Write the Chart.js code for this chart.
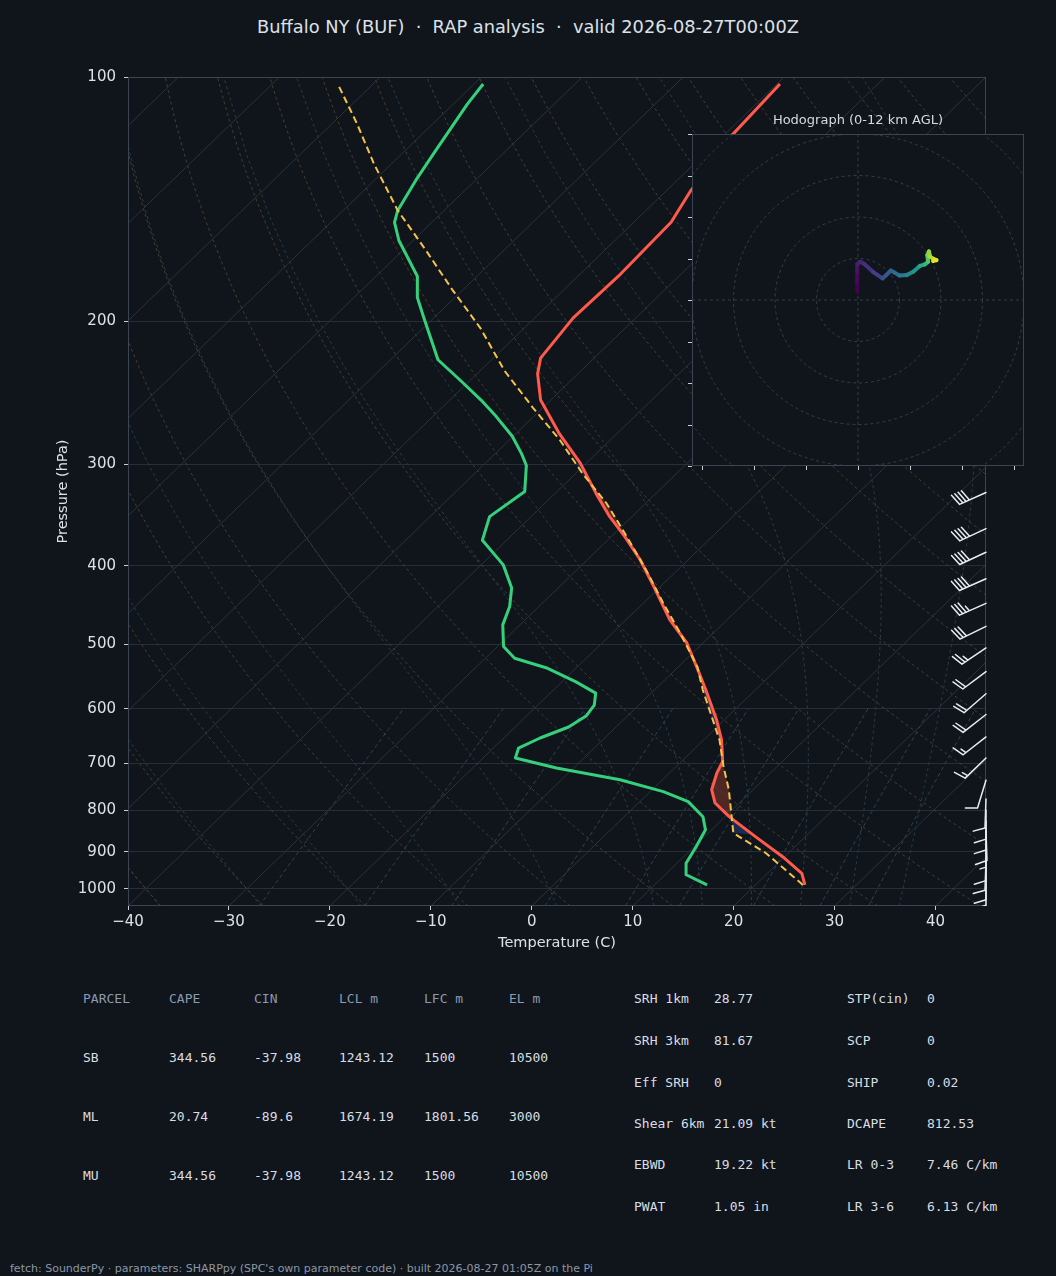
<!DOCTYPE html>
<html>
<head>
<meta charset="utf-8">
<title>Buffalo NY (BUF) sounding</title>
<script src="https://cdn.jsdelivr.net/npm/chart.js@4.4.1/dist/chart.umd.min.js"></script>
<style>
  html, body { margin: 0; padding: 0; background: #10151c; }
  body { width: 1056px; height: 1276px; position: relative; overflow: hidden;
         font-family: 'DejaVu Sans', sans-serif; color: #dde1e7; }
  #title { position: absolute; top: 15px; left: 0; width: 1056px; text-align: center;
           font-size: 17.8px; line-height: 24px; white-space: pre; }
  #skew { position: absolute; left: 0; top: 0; }
  #hodo { position: absolute; left: 682px; top: 124px; }
  #hodoTitle { position: absolute; left: 692px; width: 332px; top: 111px; text-align: center;
               font-size: 13px; line-height: 18px; color: #d5dae0; }
  .cell { position: absolute; font-family: 'DejaVu Sans Mono', monospace; font-size: 13px;
          line-height: 16px; white-space: pre; color: #d8dde3; }
  .head { color: #8a9ab0; }
  #footer { position: absolute; left: 10px; top: 1262px; font-size: 11px; line-height: 14px;
            color: #8b97a5; white-space: pre; }
</style>
</head>
<body>
<div id="title">Buffalo NY (BUF)  ·  RAP analysis  ·  valid 2026-08-27T00:00Z</div>
<canvas id="skew" width="1056" height="960"></canvas>
<div id="hodoTitle">Hodograph (0-12 km AGL)</div>
<canvas id="hodo" width="352" height="352"></canvas>
<div id="footer">fetch: SounderPy · parameters: SHARPpy (SPC's own parameter code) · built 2026-08-27 01:05Z on the Pi</div>

<script>
// ---- sounding ----
const tempP = [989, 957, 913, 863, 815, 784, 755, 720, 697, 656, 619, 569, 538, 498, 466, 424,
  393, 368, 348, 326, 299, 275, 250, 232, 222, 198, 175, 151, 138, 118, 102];
const tempC = [24.9, 23.4, 19.8, 15.1, 10.4, 7.6, 5.9, 4.7, 4.1, 1.8, -0.8, -4.9, -7.7, -11.6,
  -15.7, -20.7, -24.8, -28.7, -32.2, -35.9, -40.6, -45.7, -51.0, -54.0, -55.3, -56.2, -56.0,
  -56.3, -57.6, -59.2, -59.7];

const dewP = [989, 961, 930, 887, 846, 815, 781, 759, 734, 710, 690, 671, 652, 632, 612, 594,
  574, 556, 535, 520, 503, 473, 449, 426, 399, 372, 348, 324, 301, 291, 277, 262, 250, 236, 223,
  198, 187, 176, 159, 151, 146, 134, 124, 108, 102];
const dewC = [15.2, 12.1, 10.9, 10.2, 9.4, 7.8, 4.8, 1.3, -4.2, -11.7, -16.8, -17.5, -16.4,
  -14.7, -14.1, -14.4, -15.5, -18.6, -22.8, -27.1, -29.4, -31.7, -32.9, -34.6, -37.8, -42.4,
  -44.1, -43.2, -45.7, -47.4, -50.1, -53.7, -56.9, -61.1, -65.3, -71.0, -73.7, -75.9, -81.4,
  -83.7, -84.6, -85.9, -86.9, -88.6, -89.1];

// surface-based parcel
const parcelP = [989, 904, 854, 755, 707, 656, 569, 533, 484, 445, 405, 368, 335, 308, 280, 255,
  230, 204, 183, 163, 146, 128, 114, 102];
const parcelC = [24.7, 17.8, 12.5, 7.6, 4.7, 1.6, -5.2, -8.1, -13.3, -18.0, -23.1, -28.5, -33.9,
  -39.3, -45.0, -51.1, -57.6, -64.3, -71.0, -77.9, -84.6, -91.7, -97.6, -103.5];

// wind barbs on the right edge (kt, direction wind is from)
const barbP = [325, 360, 385, 415, 445, 475, 505, 540, 575, 610, 650, 690, 735,
  775, 800, 825, 850, 875, 900, 925, 950, 975];
const barbSpd = [40, 40, 40, 40, 35, 30, 25, 20, 20, 20, 15, 15, 10,
  10, 10, 10, 10, 5, 10, 10, 10, 5];
const barbDir = [246, 245, 245, 246, 246, 244, 236, 233, 229, 232, 232, 226, 197,
  182, 180, 180, 178, 180, 180, 182, 180, 180];

// hodograph trace, 0-12 km
const hodoU = [-0.2, -0.2, -0.2, -0.2, 0.6, 1.6, 3.6, 5.9, 6.8, 7.9, 8.8, 10.0, 11.7, 13.3,
  14.9, 16.1, 16.9, 16.7, 17.1, 17.4, 18.2, 18.9, 18.1];
const hodoV = [2.0, 4.4, 6.8, 8.6, 9.2, 8.6, 6.8, 5.2, 6.0, 7.1, 6.6, 5.9, 6.0, 6.8,
  8.2, 8.6, 9.2, 10.8, 11.7, 10.4, 9.9, 9.6, 9.4];
const hodoZ = [0, 0.3, 0.6, 1.0, 1.3, 1.7, 2.3, 3.0, 3.4, 3.8, 4.2, 4.8, 5.5, 6.3,
  7.2, 8.0, 8.8, 9.5, 10.0, 10.5, 11.0, 11.5, 12.0];

// axis ticks
const pressureTicks = [100, 200, 300, 400, 500, 600, 700, 800, 900, 1000];
const tempTicks = [-40, -30, -20, -10, 0, 10, 20, 30, 40];
const hodoTickX = [-37.5, -25, -12.5, 0, 12.5, 25, 37.5];
const hodoTickY = [-40, -30, -20, -10, 0, 10, 20, 30, 40];
const hodoRings = [10, 20, 30, 40, 50, 60];

// reference lines of the diagram
const dryTheta = [];
for (let t = -40; t < 200; t += 10) dryTheta.push(t);
const moistT0 = [-50, -40, -30, -20, -10, 0, 10, 15, 20, 25, 30, 35];
const mixRatios = [0.0004, 0.001, 0.002, 0.004, 0.007, 0.01, 0.016, 0.024, 0.032];

// parameter table
const parcelNames = ['SB', 'ML', 'MU'];
const capeVals = ['344.56', '20.74', '344.56'];
const cinVals = ['-37.98', '-89.6', '-37.98'];
const lclVals = ['1243.12', '1674.19', '1243.12'];
const lfcVals = ['1500', '1801.56', '1500'];
const elVals = ['10500', '3000', '10500'];
const paramNamesA = ['SRH 1km', 'SRH 3km', 'Eff SRH', 'Shear 6km', 'EBWD', 'PWAT'];
const paramValsA = ['28.77', '81.67', '0', '21.09 kt', '19.22 kt', '1.05 in'];
const paramNamesB = ['STP(cin)', 'SCP', 'SHIP', 'DCAPE', 'LR 0-3', 'LR 3-6'];
const paramValsB = ['0', '0', '0.02', '812.53', '7.46 C/km', '6.13 C/km'];

// ---- styling ----
const BG = '#10151c';
const TEXT = '#dde1e7';
const TICK = '#c9ced6';
const FONT = "'DejaVu Sans', sans-serif";
const P_BOT = 1050, P_TOP = 100, T_MIN = -40, T_MAX = 45;

// 45 degree skew like metpy: shift by axes fraction of height
const skewX = (t, p) => t + (T_MAX - T_MIN) * Math.log(P_BOT / p) / Math.log(P_BOT / P_TOP);
const toPts = (ps, ts) => ps.map((p, i) => ({ x: skewX(ts[i], p), y: p }));

function logLevels(pFrom, pTo, n) {
  const out = [];
  for (let i = 0; i <= n; i++) out.push(pFrom * Math.pow(pTo / pFrom, i / n));
  return out;
}

function moistLapse(tK, p) {
  const Rd = 287.04, Cp = 1005.7, Lv = 2.501e6, eps = 0.622;
  const tc = tK - 273.15;
  const es = 6.112 * Math.exp(17.67 * tc / (tc + 243.5));
  const rs = eps * es / (p - es);
  return (1 / p) * (Rd * tK + Lv * rs) / (Cp + (Lv * Lv * rs * eps) / (Rd * tK * tK));
}

function moistLine(t0) {
  const rk = (p, t, dp) => {
    const k1 = moistLapse(t, p);
    return t + moistLapse(t + k1 * dp / 2, p + dp / 2) * dp;
  };
  let tb = t0 + 273.15;
  for (let p = 1000; p < P_BOT; p += 5) tb = rk(p, tb, 5);
  const pts = [{ x: skewX(tb - 273.15, P_BOT), y: P_BOT }];
  let t = t0 + 273.15;
  for (let p = 1000; p >= P_TOP; p -= 5) {
    if (p % 25 === 0) pts.push({ x: skewX(t - 273.15, p), y: p });
    t = rk(p, t, -5);
  }
  return pts;
}

function refLine(data, color, dash) {
  return { data, showLine: true, borderColor: color, borderWidth: 1, borderDash: dash,
    pointRadius: 0, order: 10 };
}

const datasets = [
  { data: toPts(tempP, tempC), showLine: true, borderColor: '#ff5a4c', borderWidth: 3,
    pointRadius: 0, borderJoinStyle: 'round', order: 1 },
  { data: toPts(dewP, dewC), showLine: true, borderColor: '#36d07c', borderWidth: 3,
    pointRadius: 0, borderJoinStyle: 'round', order: 2 },
  { data: toPts(parcelP, parcelC), showLine: true, borderColor: '#f5c444', borderWidth: 2,
    borderDash: [7, 4], pointRadius: 0, order: 0 }
];

for (let t = -130; t <= 40; t += 10) {
  datasets.push(refLine([{ x: skewX(t, P_BOT), y: P_BOT }, { x: skewX(t, P_TOP), y: P_TOP }],
    '#2b323b', []));
}
const dryLevels = logLevels(P_BOT, P_TOP, 40);
dryTheta.forEach(th => {
  datasets.push(refLine(dryLevels.map(p => ({
    x: skewX((th + 273.15) * Math.pow(p / 1000, 0.2857) - 273.15, p), y: p })),
    '#4a3d2c', [3, 3]));
});
moistT0.forEach(t0 => datasets.push(refLine(moistLine(t0), '#263d48', [3, 3])));
const mixLevels = logLevels(P_BOT, 600, 10);
mixRatios.forEach(w => {
  datasets.push(refLine(mixLevels.map(p => {
    const e = w * p / (0.622 + w);
    const l = Math.log(e / 6.112);
    return { x: skewX(243.5 * l / (17.67 - l), p), y: p };
  }), '#2a4450', [4, 3]));
});

// interpolate a profile in log-p
function interpLogP(ps, ts, p) {
  for (let i = 0; i < ps.length - 1; i++) {
    if (p <= ps[i] && p >= ps[i + 1]) {
      const f = Math.log(p / ps[i]) / Math.log(ps[i + 1] / ps[i]);
      return ts[i] + f * (ts[i + 1] - ts[i]);
    }
  }
  return NaN;
}

// CAPE (red) / CIN (blue) shading between parcel and environment
const shadePlugin = {
  id: 'shade',
  beforeDatasetsDraw(chart) {
    const { ctx, chartArea: a, scales: { x, y } } = chart;
    const levels = logLevels(parcelP[0], parcelP[parcelP.length - 1], 400);
    const envX = [], parX = [], py = [];
    levels.forEach(p => {
      envX.push(x.getPixelForValue(skewX(interpLogP(tempP, tempC, p), p)));
      parX.push(x.getPixelForValue(skewX(interpLogP(parcelP, parcelC, p), p)));
      py.push(y.getPixelForValue(p));
    });
    ctx.save();
    ctx.beginPath();
    ctx.rect(a.left, a.top, a.width, a.height);
    ctx.clip();
    const poly = (color, other) => {
      ctx.beginPath();
      levels.forEach((p, i) => (i ? ctx.lineTo(envX[i], py[i]) : ctx.moveTo(envX[i], py[i])));
      for (let i = levels.length - 1; i >= 0; i--) ctx.lineTo(other(i, levels[i]), py[i]);
      ctx.closePath();
      ctx.fillStyle = color;
      ctx.fill();
    };
    poly('rgba(215,80,60,0.32)', i => Math.max(envX[i], parX[i]));
    poly('rgba(60,95,210,0.30)', (i, p) => (p <= 854 && p >= 300 ? Math.min(envX[i], parX[i]) : envX[i]));
    ctx.restore();
  }
};

const framePlugin = {
  id: 'frame',
  afterDatasetsDraw(chart) {
    const { ctx, chartArea: a } = chart;
    ctx.save();
    ctx.strokeStyle = '#3b4451';
    ctx.lineWidth = 1;
    ctx.strokeRect(a.left + 0.5, a.top + 0.5, a.width - 1, a.height - 1);
    ctx.restore();
  }
};

function drawBarb(ctx, x0, y0, spd, dir, L) {
  const r = dir * Math.PI / 180;
  const sx = Math.sin(r), sy = -Math.cos(r);
  const nx = -sy, ny = sx;
  const at = d => [x0 + sx * d, y0 + sy * d];
  ctx.beginPath();
  ctx.moveTo(x0, y0);
  ctx.lineTo(...at(L));
  let s = Math.round(spd / 5) * 5;
  const full = Math.floor(s / 10);
  const half = s % 10 === 5;
  const sp = 0.125 * L;
  let d = L;
  for (let i = 0; i < full; i++) {
    const [px, py] = at(d);
    ctx.moveTo(px, py);
    ctx.lineTo(px + nx * 0.4 * L + sx * 0.125 * L, py + ny * 0.4 * L + sy * 0.125 * L);
    d -= sp;
  }
  if (half) {
    if (full === 0) d -= sp;
    const [px, py] = at(d);
    ctx.moveTo(px, py);
    ctx.lineTo(px + nx * 0.2 * L + sx * 0.0625 * L, py + ny * 0.2 * L + sy * 0.0625 * L);
  }
  ctx.stroke();
}

const barbPlugin = {
  id: 'barbs',
  afterDatasetsDraw(chart) {
    const { ctx, chartArea: a, scales: { y } } = chart;
    ctx.save();
    ctx.beginPath();
    ctx.rect(a.left, a.top, a.width + 2, a.height);
    ctx.clip();
    ctx.strokeStyle = '#e8ecf0';
    ctx.lineWidth = 1.5;
    ctx.lineCap = 'round';
    barbP.forEach((p, i) => drawBarb(ctx, a.right, y.getPixelForValue(p), barbSpd[i], barbDir[i], 29));
    ctx.restore();
  }
};

new Chart(document.getElementById('skew'), {
  type: 'scatter',
  data: { datasets },
  options: {
    responsive: false,
    animation: false,
    devicePixelRatio: 1,
    layout: { padding: { top: 77, right: 70, left: 0, bottom: 0 } },
    plugins: { legend: { display: false }, tooltip: { enabled: false } },
    scales: {
      x: {
        type: 'linear', min: T_MIN, max: T_MAX,
        afterBuildTicks: s => { s.ticks = tempTicks.map(v => ({ value: v })); },
        afterFit: s => { s.height = 54; },
        ticks: { color: TEXT, font: { family: FONT, size: 15 }, padding: 3, maxRotation: 0,
          callback: v => (v < 0 ? '\u2212' + Math.abs(v) : String(v)) },
        grid: { drawOnChartArea: false, tickLength: 4, tickColor: TICK },
        border: { display: false },
        title: { display: true, text: 'Temperature (C)', color: TEXT,
          font: { family: FONT, size: 14.5 }, padding: { top: 0, bottom: 8 } }
      },
      y: {
        type: 'logarithmic', min: P_TOP, max: P_BOT, reverse: true,
        afterBuildTicks: s => { s.ticks = pressureTicks.map(v => ({ value: v })); },
        afterFit: s => { s.width = 128; },
        ticks: { color: TEXT, font: { family: FONT, size: 15 }, padding: 8, autoSkip: false,
          callback: v => String(v) },
        grid: { color: '#272e37', lineWidth: 1, tickLength: 4, tickColor: TICK },
        border: { display: false },
        title: { display: true, text: 'Pressure (hPa)', color: TEXT,
          font: { family: FONT, size: 14.5 }, padding: { top: 55, bottom: 0 } }
      }
    }
  },
  plugins: [shadePlugin, framePlugin, barbPlugin]
});

// ---- hodograph inset ----
const VIRIDIS = ['#440154', '#482878', '#3e4989', '#31688e', '#26828e', '#1f9e89',
  '#35b779', '#6ece58', '#b5de2b', '#fde725'];
function viridis(f) {
  f = Math.min(1, Math.max(0, f)) * (VIRIDIS.length - 1);
  const i = Math.min(VIRIDIS.length - 2, Math.floor(f)), k = f - i;
  const c0 = parseInt(VIRIDIS[i].slice(1), 16), c1 = parseInt(VIRIDIS[i + 1].slice(1), 16);
  const ch = sh => Math.round(((c0 >> sh) & 255) * (1 - k) + ((c1 >> sh) & 255) * k);
  return `rgb(${ch(16)},${ch(8)},${ch(0)})`;
}

const hodoBackdrop = {
  id: 'hodoBackdrop',
  beforeDatasetsDraw(chart) {
    const { ctx, chartArea: a, scales: { x, y } } = chart;
    ctx.save();
    ctx.fillStyle = BG;
    ctx.fillRect(a.left, a.top, a.width, a.height);
    ctx.beginPath();
    ctx.rect(a.left, a.top, a.width, a.height);
    ctx.clip();
    ctx.strokeStyle = '#343d49';
    ctx.lineWidth = 1;
    ctx.setLineDash([3, 3]);
    const cx = x.getPixelForValue(0), cy = y.getPixelForValue(0);
    const unit = x.getPixelForValue(10) - cx;
    hodoRings.forEach(r => {
      ctx.beginPath();
      ctx.arc(cx, cy, r / 10 * unit, 0, Math.PI * 2);
      ctx.stroke();
    });
    ctx.beginPath();
    ctx.moveTo(a.left, cy); ctx.lineTo(a.right, cy);
    ctx.moveTo(cx, a.top); ctx.lineTo(cx, a.bottom);
    ctx.stroke();
    ctx.restore();
  },
  afterDraw(chart) {
    const { ctx, chartArea: a, scales: { x, y } } = chart;
    ctx.save();
    ctx.strokeStyle = '#3b4451';
    ctx.lineWidth = 1;
    ctx.strokeRect(a.left + 0.5, a.top + 0.5, a.width - 1, a.height - 1);
    ctx.strokeStyle = TICK;
    ctx.beginPath();
    hodoTickY.forEach(v => {
      const py = Math.round(y.getPixelForValue(v)) + 0.5;
      ctx.moveTo(a.left - 4, py); ctx.lineTo(a.left, py);
    });
    hodoTickX.forEach(v => {
      const px = Math.round(x.getPixelForValue(v)) + 0.5;
      ctx.moveTo(px, a.bottom); ctx.lineTo(px, a.bottom + 4);
    });
    ctx.stroke();
    ctx.restore();
  }
};

new Chart(document.getElementById('hodo'), {
  type: 'scatter',
  data: {
    datasets: [{
      data: hodoU.map((u, i) => ({ x: u, y: hodoV[i] })),
      showLine: true, borderWidth: 4, pointRadius: 0, borderColor: VIRIDIS[0],
      borderCapStyle: 'round', borderJoinStyle: 'round',
      segment: { borderColor: c => viridis(hodoZ[c.p0DataIndex] / 12) }
    }]
  },
  options: {
    responsive: false,
    animation: false,
    devicePixelRatio: 1,
    layout: { padding: 10 },
    plugins: { legend: { display: false }, tooltip: { enabled: false } },
    scales: {
      x: { type: 'linear', min: -40, max: 40, display: false },
      y: { type: 'linear', min: -40, max: 40, display: false }
    }
  },
  plugins: [hodoBackdrop]
});

// ---- parameter table ----
function addCell(text, x, yMid, cls) {
  const d = document.createElement('div');
  d.className = 'cell' + (cls ? ' ' + cls : '');
  d.textContent = text;
  d.style.left = x + 'px';
  d.style.top = (yMid - 8) + 'px';
  document.body.appendChild(d);
}

const parcelCols = [83, 169, 254, 339, 424, 509];
const parcelRows = [999, 1058, 1117, 1176];
['PARCEL', 'CAPE', 'CIN', 'LCL m', 'LFC m', 'EL m'].forEach((h, j) =>
  addCell(h, parcelCols[j], parcelRows[0], 'head'));
parcelNames.forEach((name, i) => {
  [name, capeVals[i], cinVals[i], lclVals[i], lfcVals[i], elVals[i]].forEach((v, j) =>
    addCell(v, parcelCols[j], parcelRows[i + 1]));
});

const paramRows = [999, 1041, 1083, 1124, 1165, 1207];
paramNamesA.forEach((n, i) => {
  addCell(n, 634, paramRows[i]);
  addCell(paramValsA[i], 714, paramRows[i]);
  addCell(paramNamesB[i], 847, paramRows[i]);
  addCell(paramValsB[i], 927, paramRows[i]);
});
</script>
</body>
</html>
